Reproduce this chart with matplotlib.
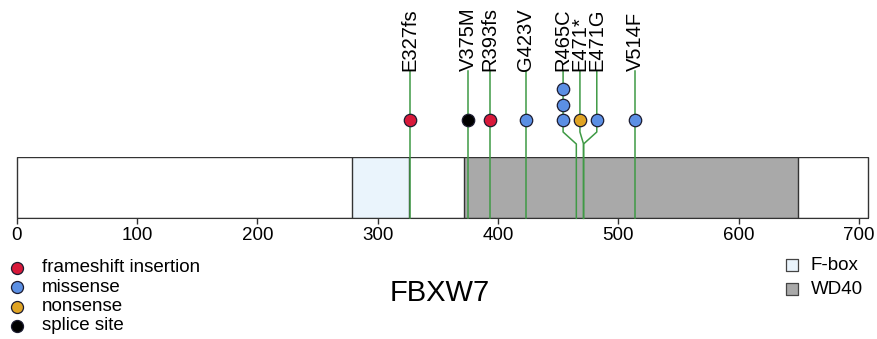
import matplotlib
matplotlib.use('Agg')
import matplotlib.pyplot as plt
from matplotlib.patches import Rectangle

plt.rcParams['font.family'] = ['Liberation Sans', 'DejaVu Sans']

# ==== data ====
gene = 'FBXW7'
prot_len = 707
domains = ['F-box', 'WD40']
dom_start = [279, 372]
dom_end = [326, 649]
dom_color = ['#eaf4fc', '#a9a9a9']

mut_label = ['E327fs', 'V375M', 'R393fs', 'G423V', 'R465C', 'E471*', 'E471G', 'V514F']
mut_pos = [327, 375, 393, 423, 465, 471, 471, 514]
mut_show = [327, 375, 393, 423, 454, 468, 482, 514]   # where the lollipop head is drawn
mut_count = [1, 1, 1, 1, 3, 1, 1, 1]
mut_type = ['frameshift insertion', 'splice site', 'frameshift insertion', 'missense',
            'missense', 'nonsense', 'missense', 'missense']

types = ['frameshift insertion', 'missense', 'nonsense', 'splice site']
type_color = ['#d8193a', '#5b8fe4', '#e0a424', '#000000']
cmap = dict(zip(types, type_color))

xticks = [0, 100, 200, 300, 400, 500, 600, 700]

# ==== layout (pixels) ====
W, H = 877, 339
x0_px, px_per_aa = 16.7, 1.2035
xlim = (-x0_px / px_per_aa, (W - x0_px) / px_per_aa)
box_top, box_bot = 156.7, 218.3
y_head, dy_head = 120, 15.5
y_bend_hi, y_bend_lo = 132, 144
y_lab = 71
green = '#3f9a45'
edge = '#1c1c30'

fig = plt.figure(figsize=(W / 100, H / 100), dpi=100)

# protein box axis
pax = fig.add_axes([0, (H - box_bot) / H, 1, (box_bot - box_top) / H])
pax.set_xlim(xlim)
pax.set_ylim(0, 1)
pax.add_patch(Rectangle((0, 0), prot_len, 1, fc='white', ec='#333333', lw=1, zorder=1))
for s, e, c in zip(dom_start, dom_end, dom_color):
    pax.add_patch(Rectangle((s, 0), e - s, 1, fc=c, ec='#333333', lw=1, zorder=2))
for sp in ['left', 'top', 'right']:
    pax.spines[sp].set_visible(False)
pax.spines['bottom'].set_bounds(0, prot_len)
pax.spines['bottom'].set_color('#333333')
pax.set_yticks([])
pax.set_xticks(xticks)
pax.tick_params(axis='x', direction='out', length=4, width=1, color='#333333',
                labelsize=13.5, pad=2)

# lollipops
lax = fig.add_axes([0, 0, 1, 1], zorder=5)
lax.set_xlim(xlim)
lax.set_ylim(H, 0)
lax.axis('off')
for lab, p, d, n, t in zip(mut_label, mut_pos, mut_show, mut_count, mut_type):
    if p == d:
        lax.plot([p, p], [box_bot, y_lab], color=green, lw=1.1, zorder=1)
    else:
        lax.plot([p, p, d, d], [box_bot, y_bend_lo, y_bend_hi, y_lab],
                 color=green, lw=1.1, zorder=1)
    for k in range(n):
        lax.scatter(d, y_head - k * dy_head, s=80, c=cmap[t], edgecolors=edge,
                    linewidths=0.9, zorder=3)
    lax.text(d, y_lab, lab, rotation=90, ha='center', va='bottom', fontsize=14.5)

# legends and title, in pixel coordinates
gax = fig.add_axes([0, 0, 1, 1], zorder=6)
gax.set_xlim(0, W)
gax.set_ylim(H, 0)
gax.axis('off')
for i, (t, c) in enumerate(zip(types, type_color)):
    yy = 268 + i * 19.3
    gax.scatter(17.3, yy, s=75, c=c, edgecolors=edge, linewidths=0.9)
    gax.text(42, yy, t, va='center', ha='left', fontsize=13.5)
for i, (dname, c) in enumerate(zip(domains, dom_color)):
    yy = 265 + i * 24
    gax.scatter(792, yy, s=75, marker='s', c=c, edgecolors='#444444', linewidths=0.9)
    gax.text(811, yy, dname, va='center', ha='left', fontsize=13.5)

gax.text(440, 293, gene, ha='center', va='center', fontsize=21)

fig.savefig('out.png', dpi=100)
